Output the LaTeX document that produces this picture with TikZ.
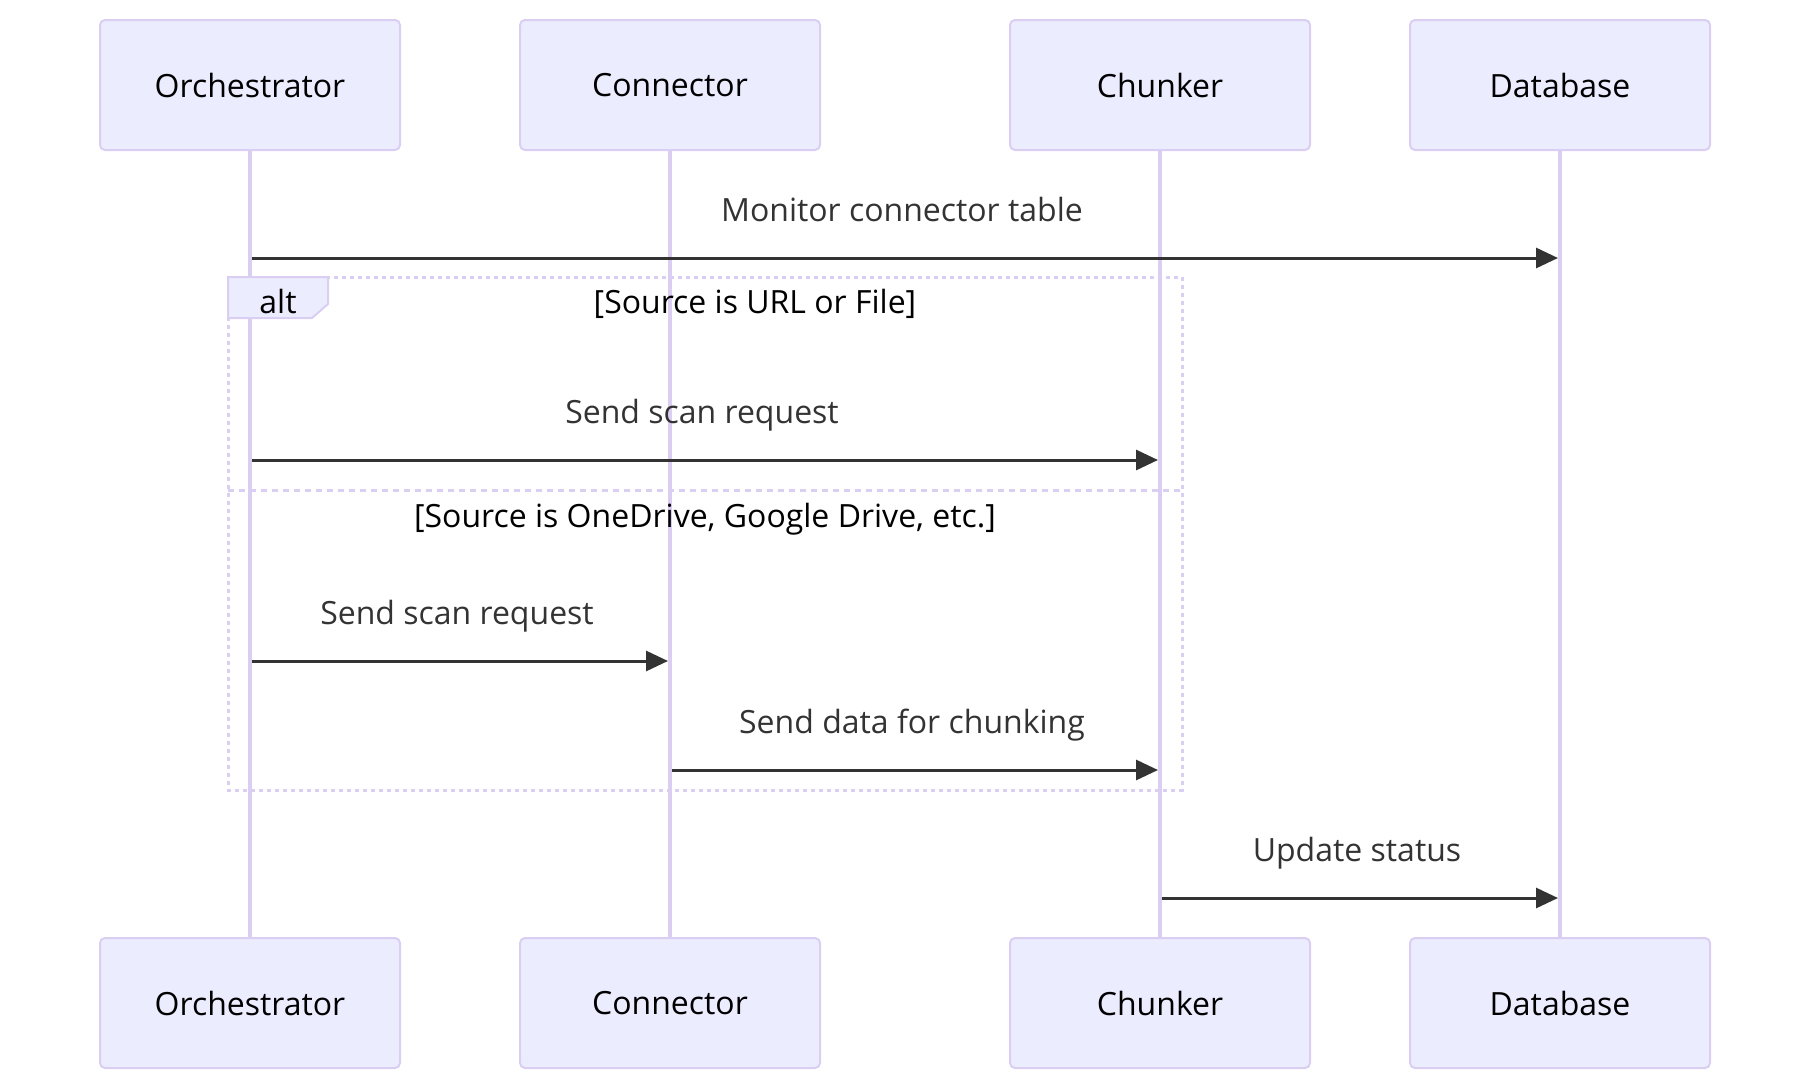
\documentclass[tikz,border=0pt]{standalone}
\usepackage{fontspec}
\setmainfont{Open Sans}
\usetikzlibrary{arrows.meta,backgrounds}
\definecolor{actfill}{HTML}{ECECFF}
\definecolor{actline}{HTML}{DACEF3}
\definecolor{msgcol}{HTML}{333333}
\begin{document}
\begin{tikzpicture}[x=1pt,y=-1pt,
  actor/.style={draw=actline, line width=2pt, fill=actfill, rounded corners=5pt,
    minimum width=300pt, minimum height=130pt, inner sep=0pt,
    font=\fontsize{32}{38}\selectfont, text=black},
  life/.style={draw=actline, line width=3.5pt},
  msg/.style={draw=msgcol, line width=3pt, -{Triangle[length=22pt,width=20pt]}},
  lbl/.style={font=\fontsize{32}{38}\selectfont, text=msgcol, anchor=base, inner sep=0pt},
  sect/.style={font=\fontsize{32}{38}\selectfont, text=black, anchor=base, inner sep=0pt},
  altline/.style={draw=actline, line width=3pt, dash pattern=on 4pt off 4pt},
  divline/.style={draw=actline, line width=3pt, dash pattern=on 6pt off 5pt},
  tab/.style={draw=actline, line width=2pt, fill=actfill}]
\useasboundingbox (0,0) rectangle (1810,1090);

% actors
\node[actor] (oT) at (250,85) {Orchestrator};
\node[actor] (cT) at (670,85) {Connector};
\node[actor] (kT) at (1160,85) {Chunker};
\node[actor] (dT) at (1560,85) {Database};
\node[actor] (oB) at (250,1003) {Orchestrator};
\node[actor] (cB) at (670,1003) {Connector};
\node[actor] (kB) at (1160,1003) {Chunker};
\node[actor] (dB) at (1560,1003) {Database};

\begin{scope}[on background layer]
\draw[life] (oT.south) -- (oB.north);
\draw[life] (cT.south) -- (cB.north);
\draw[life] (kT.south) -- (kB.north);
\draw[life] (dT.south) -- (dB.north);
% alt frame
\draw[altline] (228,277) rectangle (1182,790);
\draw[divline] (228,490) -- (1182,490);
\end{scope}

% alt tab
\draw[tab] (228,277) -- (328,277) -- (328,304) -- (312,318) -- (228,318) -- cycle;
\node[sect] (altlbl) at (278,313) {alt};
\node[sect] (s1) at (755,313) {[Source is URL or File]};
\node[sect] (s2) at (705,527) {[Source is OneDrive, Google Drive, etc.]};

% message end points
\coordinate (m1a) at (252,258);  \coordinate (m1b) at (1558,258);
\coordinate (m2a) at (252,460);  \coordinate (m2b) at (1158,460);
\coordinate (m3a) at (252,661);  \coordinate (m3b) at (668,661);
\coordinate (m4a) at (672,770);  \coordinate (m4b) at (1158,770);
\coordinate (m5a) at (1162,898); \coordinate (m5b) at (1558,898);

\draw[msg] (m1a) -- (m1b);
\draw[msg] (m2a) -- (m2b);
\draw[msg] (m3a) -- (m3b);
\draw[msg] (m4a) -- (m4b);
\draw[msg] (m5a) -- (m5b);

\node[lbl] (l1) at (902,221) {Monitor connector table};
\node[lbl] (l2) at (702,423) {Send scan request};
\node[lbl] (l3) at (457,624) {Send scan request};
\node[lbl] (l4) at (912,733) {Send data for chunking};
\node[lbl] (l5) at (1357,861) {Update status};
\end{tikzpicture}
\end{document}
